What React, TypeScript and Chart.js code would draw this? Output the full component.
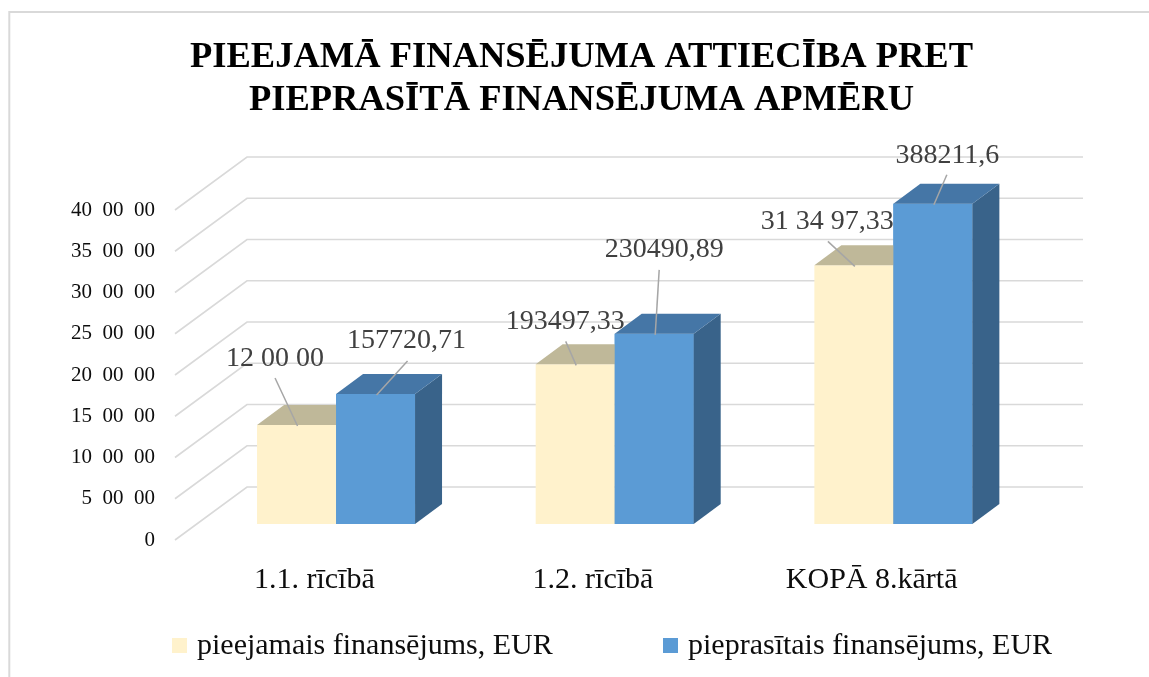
import React, { useEffect, useRef } from 'react';
import { Chart, registerables } from 'chart.js';

Chart.register(...registerables);

// ---------- data ----------
const titleLines = ['PIEEJAMĀ FINANSĒJUMA ATTIECĪBA PRET', 'PIEPRASĪTĀ FINANSĒJUMA APMĒRU'];
const categories = ['1.1. rīcībā', '1.2. rīcībā', 'KOPĀ 8.kārtā'];
const seriesNames = ['pieejamais finansējums, EUR', 'pieprasītais finansējums, EUR'];
const availableValues = [120000, 193497.33, 313497.33];
const requestedValues = [157720.71, 230490.89, 388211.6];
const availableLabels = ['12 00 00', '193497,33', '31 34 97,33'];
const requestedLabels = ['157720,71', '230490,89', '388211,6'];
const yTickValues = [0, 50000, 100000, 150000, 200000, 250000, 300000, 350000, 400000];
const yTickLabels = ['0', '5 00 00', '10 00 00', '15 00 00', '20 00 00', '25 00 00', '30 00 00', '35 00 00', '40 00 00'];

// ---------- style / layout ----------
const SERIF = '"Liberation Serif", "Times New Roman", serif';
const W = 1149;
const H = 677;
const WALL = { dx: 72, dy: 53 };
const PLANE = { dx: 21.7, dy: 16 };
const BAR_DEPTH = { dx: 27, dy: 20 };
const GRID_COLOR = '#D9D9D9';
const FRONT = ['#FFF2CC', '#5B9BD5'];
const TOP = ['#BFB899', '#4576A6'];
const SIDE = ['#CCC3A3', '#39638A'];
const labelLayout = [
  [
    { lx: -21.5, ly: -66, sx: -21.5, sy: -47 },
    { lx: -10, ly: -42.5, sx: -9.5, sy: -23 },
    { lx: -26.5, ly: -43.5, sx: -26, sy: -24 },
  ],
  [
    { lx: 31, ly: -53, sx: 32, sy: -33 },
    { lx: 10, ly: -84, sx: 5, sy: -64 },
    { lx: 14.5, ly: -48, sx: 14, sy: -29 },
  ],
];
const legendX = [172, 663];

function drawFaces(ctx: any, el: any, di: number) {
  const { x, y, base, width } = el.getProps(['x', 'y', 'base', 'width'], true);
  const l = x - width / 2;
  const r = x + width / 2;
  ctx.fillStyle = SIDE[di];
  ctx.beginPath();
  ctx.moveTo(r, y);
  ctx.lineTo(r + BAR_DEPTH.dx, y - BAR_DEPTH.dy);
  ctx.lineTo(r + BAR_DEPTH.dx, base - BAR_DEPTH.dy);
  ctx.lineTo(r, base);
  ctx.closePath();
  ctx.fill();
  ctx.fillStyle = TOP[di];
  ctx.beginPath();
  ctx.moveTo(l, y);
  ctx.lineTo(r, y);
  ctx.lineTo(r + BAR_DEPTH.dx, y - BAR_DEPTH.dy);
  ctx.lineTo(l + BAR_DEPTH.dx, y - BAR_DEPTH.dy);
  ctx.closePath();
  ctx.fill();
}

const threeD = {
  id: 'threeD',
  beforeDraw(chart: any) {
    const { ctx, chartArea } = chart;
    ctx.save();
    // outer border
    ctx.strokeStyle = GRID_COLOR;
    ctx.lineWidth = 2;
    ctx.beginPath();
    ctx.moveTo(W + 5, 12);
    ctx.lineTo(9.3, 12);
    ctx.lineTo(9.3, H + 5);
    ctx.stroke();

    // title
    ctx.fillStyle = '#000';
    ctx.font = `bold 36.5px ${SERIF}`;
    ctx.textAlign = 'center';
    ctx.textBaseline = 'alphabetic';
    ctx.fillText(titleLines[0], 581.5, 67);
    ctx.fillText(titleLines[1], 581.5, 110);

    // legend
    ctx.font = `30px ${SERIF}`;
    ctx.textAlign = 'left';
    chart.data.datasets.forEach((ds: any, i: number) => {
      ctx.fillStyle = ds.backgroundColor;
      ctx.fillRect(legendX[i], 638, 15, 15);
      ctx.fillStyle = '#0d0d0d';
      ctx.fillText(ds.label, legendX[i] + 25, 654);
    });

    // side and back wall gridlines
    const y = chart.scales.y;
    ctx.strokeStyle = GRID_COLOR;
    ctx.lineWidth = 1.6;
    yTickValues.forEach((v) => {
      const py = y.getPixelForValue(v);
      ctx.beginPath();
      ctx.moveTo(chartArea.left, py);
      ctx.lineTo(chartArea.left + WALL.dx, py - WALL.dy);
      ctx.lineTo(chartArea.right + WALL.dx, py - WALL.dy);
      ctx.stroke();
    });
    ctx.restore();
  },
  beforeDatasetsDraw(chart: any) {
    chart.ctx.save();
    chart.ctx.translate(PLANE.dx, -PLANE.dy);
  },
  afterDatasetsDraw(chart: any) {
    const { ctx } = chart;
    // faces in series order; later series' fronts are redrawn over earlier faces
    chart.data.datasets.forEach((_: any, di: number) => {
      const meta = chart.getDatasetMeta(di);
      meta.data.forEach((el: any) => {
        if (di > 0) el.draw(ctx);
        drawFaces(ctx, el, di);
      });
    });
    ctx.restore();

    // value labels with leader lines
    ctx.save();
    ctx.font = `28px ${SERIF}`;
    ctx.textAlign = 'center';
    ctx.textBaseline = 'middle';
    chart.data.datasets.forEach((ds: any, di: number) => {
      const meta = chart.getDatasetMeta(di);
      meta.data.forEach((el: any, i: number) => {
        const { x, y } = el.getProps(['x', 'y'], true);
        const ax = x + PLANE.dx;
        const ay = y - PLANE.dy;
        const L = labelLayout[di][i];
        ctx.strokeStyle = '#A6A6A6';
        ctx.lineWidth = 1.5;
        ctx.beginPath();
        ctx.moveTo(ax + L.sx, ay + L.sy);
        ctx.lineTo(ax + 1, ay + 1);
        ctx.stroke();
        ctx.fillStyle = '#404040';
        ctx.fillText(ds.valueLabels[i], ax + L.lx, ay + L.ly);
      });
    });
    ctx.restore();
  },
};

export default function App() {
  const ref = useRef<HTMLCanvasElement | null>(null);
  useEffect(() => {
    document.body.style.margin = '0';
    document.body.style.overflow = 'hidden';
    const canvas = ref.current!;
    const chart = new Chart(canvas, {
      type: 'bar',
      data: {
        labels: categories,
        datasets: [
          {
            label: seriesNames[0],
            data: availableValues,
            backgroundColor: FRONT[0],
            clip: false,
            valueLabels: availableLabels,
          } as any,
          {
            label: seriesNames[1],
            data: requestedValues,
            backgroundColor: FRONT[1],
            clip: false,
            valueLabels: requestedLabels,
          } as any,
        ],
      },
      options: {
        responsive: false,
        animation: false,
        devicePixelRatio: 1,
        events: [],
        layout: { padding: { left: 20, right: 138, top: 210, bottom: 77 } },
        datasets: { bar: { barPercentage: 1, categoryPercentage: 0.567, borderWidth: 0 } },
        plugins: { legend: { display: false }, title: { display: false }, tooltip: { enabled: false } },
        scales: {
          x: {
            grid: { display: false, drawTicks: false },
            border: { display: false },
            ticks: { font: { family: SERIF, size: 30 }, color: '#0d0d0d', padding: 22 },
            afterFit: (s: any) => { s.height = 60; },
          },
          y: {
            min: 0,
            max: 400000,
            grid: { display: false, drawTicks: false },
            border: { display: false },
            afterBuildTicks: (s: any) => { s.ticks = yTickValues.map((v) => ({ value: v })); },
            ticks: {
              font: { family: SERIF, size: 21 },
              color: '#0d0d0d',
              padding: 20,
              callback: (v: any) => yTickLabels[yTickValues.indexOf(Number(v))].replace(/ /g, '\u2002'),
            },
            afterFit: (s: any) => { s.width = 155; },
          },
        },
      },
      plugins: [threeD],
    });
    return () => chart.destroy();
  }, []);
  return <canvas ref={ref} width={W} height={H} style={{ display: 'block', width: W, height: H }} />;
}
